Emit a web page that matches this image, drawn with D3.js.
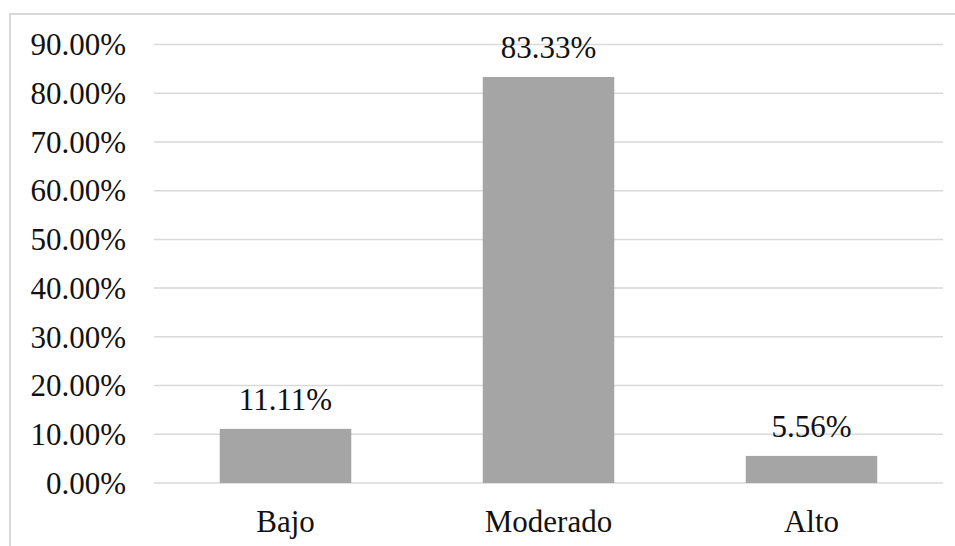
<!DOCTYPE html>
<html>
<head>
<meta charset="utf-8">
<script src="https://cdn.jsdelivr.net/npm/d3@7"></script>
<style>
  html, body { margin: 0; padding: 0; background: #fff; }
  svg { display: block; }
</style>
</head>
<body>
<svg id="chart" width="955" height="546"></svg>
<script>
const categories = ["Bajo", "Moderado", "Alto"];
const values = [11.11, 83.33, 5.56];
const yTicks = [0, 10, 20, 30, 40, 50, 60, 70, 80, 90];
const yTickLabels = ["0.00%", "10.00%", "20.00%", "30.00%", "40.00%", "50.00%", "60.00%", "70.00%", "80.00%", "90.00%"];

(function () {
const svg = d3.select("#chart");
const W = 955, H = 546;
const pLeft = 154, pRight = 943, pTop = 44.5, pBottom = 483;
const FONT = '"Liberation Serif", "Times New Roman", Tinos, serif';

// outer chart border (cropped on the right and bottom)
svg.append("rect")
  .attr("x", 10).attr("y", 14)
  .attr("width", W + 20).attr("height", H + 20)
  .attr("fill", "none").attr("stroke", "#d9d9d9").attr("stroke-width", 2);

const x = d3.scaleBand().domain(categories).range([pLeft, pRight]).paddingInner(0.5).paddingOuter(0.25);
const y = d3.scaleLinear().domain([0, 90]).range([pBottom, pTop]);

// gridlines
svg.append("g").selectAll("line").data(yTicks).join("line")
  .attr("x1", pLeft).attr("x2", pRight)
  .attr("y1", d => y(d)).attr("y2", d => y(d))
  .attr("stroke", "#d9d9d9").attr("stroke-width", 1.5);

// y axis labels
const yAxis = d3.axisLeft(y).tickValues(yTicks).tickSize(0).tickPadding(0)
  .tickFormat((d, i) => yTickLabels[i]);
const gy = svg.append("g").attr("transform", "translate(126,0)").call(yAxis)
  .attr("font-family", FONT);
gy.select(".domain").remove();
gy.selectAll("text").attr("font-size", 31).attr("dy", "0.33em").attr("fill", "#111");

// bars
svg.append("g").selectAll("rect").data(values).join("rect")
  .attr("x", (d, i) => x(categories[i]))
  .attr("width", x.bandwidth())
  .attr("y", d => y(d))
  .attr("height", d => pBottom - y(d))
  .attr("fill", "#a5a5a5");

// value labels
svg.append("g").attr("font-family", FONT).selectAll("text").data(values).join("text")
  .attr("x", (d, i) => x(categories[i]) + x.bandwidth() / 2)
  .attr("y", d => y(d) - 19)
  .attr("text-anchor", "middle")
  .attr("font-size", 31)
  .attr("fill", "#111")
  .text(d => d.toFixed(2) + "%");

// x axis labels
const xAxis = d3.axisBottom(x).tickSize(0).tickPadding(0);
const gx = svg.append("g").call(xAxis).attr("font-family", FONT);
gx.select(".domain").remove();
gx.selectAll("text").attr("y", 532).attr("dy", 0).attr("font-size", 31).attr("fill", "#111");
})();
</script>
</body>
</html>
